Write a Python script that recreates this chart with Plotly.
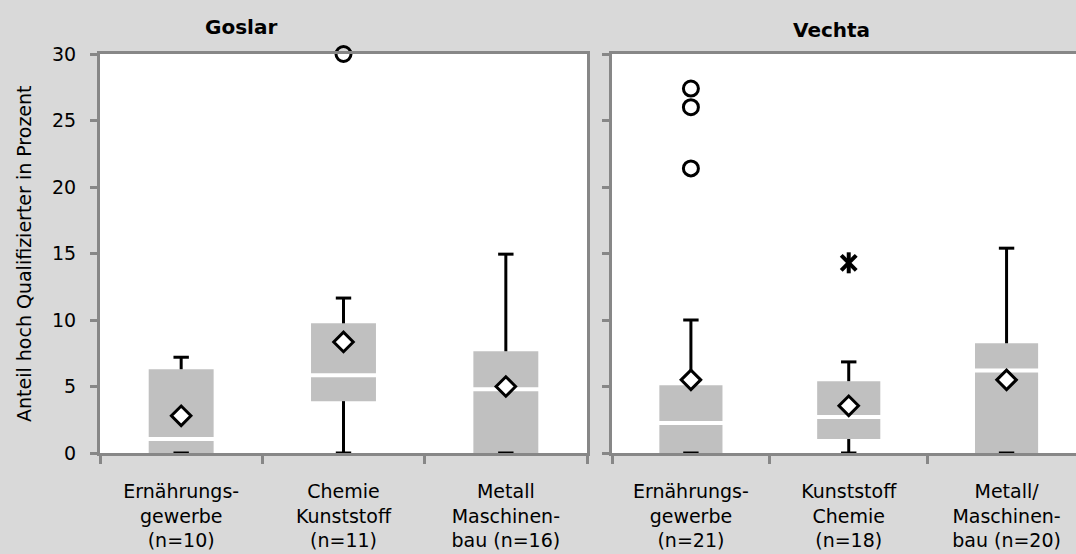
import plotly.graph_objects as go


# ═══════════════════════════════════════════════════════════════
# Daten
# ═══════════════════════════════════════════════════════════════

goslar_kategorien = [
    "Ernährungs-<br>gewerbe<br>(n=10)",
    "Chemie<br>Kunststoff<br>(n=11)",
    "Metall<br>Maschinen-<br>bau (n=16)",
]
goslar_q1 = [0.0, 3.9, 0.0]
goslar_median = [1.05, 5.85, 4.8]
goslar_q3 = [6.3, 9.75, 7.65]
goslar_min = [0.0, 0.0, 0.0]
goslar_max = [7.2, 11.65, 14.95]
goslar_mittel = [2.8, 8.35, 5.0]
goslar_ausreisser_x = [goslar_kategorien[1]]
goslar_ausreisser_y = [30.0]

vechta_kategorien = [
    "Ernährungs-<br>gewerbe<br>(n=21)",
    "Kunststoff<br>Chemie<br>(n=18)",
    "Metall/<br>Maschinen-<br>bau (n=20)",
]
vechta_q1 = [0.0, 1.05, 0.0]
vechta_median = [2.25, 2.7, 6.2]
vechta_q3 = [5.1, 5.4, 8.25]
vechta_min = [0.0, 0.0, 0.0]
vechta_max = [10.0, 6.85, 15.4]
vechta_mittel = [5.5, 3.55, 5.5]
vechta_ausreisser_x = [vechta_kategorien[0]] * 3
vechta_ausreisser_y = [21.4, 26.0, 27.4]
vechta_extrem_x = [vechta_kategorien[1]]
vechta_extrem_y = [14.3]

GRAU_BOX = "#c0c0c0"
GRAU_RAHMEN = "#878787"
HINTERGRUND = "#d9d9d9"
SCHRIFT = "DejaVu Sans"


def boxplot_spuren(kat, q1, med, q3, lo, hi, mittel, xa, ya, median_px):
    spuren = []

    spuren.append(go.Bar(
        x=kat, y=[b - a for a, b in zip(q1, q3)], base=q1, width=0.4,
        marker=dict(color=GRAU_BOX, line=dict(width=0)),
        xaxis=xa, yaxis=ya, hoverinfo="skip"
    ))

    # Whisker oben und unten
    wx, wy = [], []
    for k, a, b, l, h in zip(kat, q1, q3, lo, hi):
        wx += [k, k, None]
        wy += [b, h, None]
        if a > l:
            wx += [k, k, None]
            wy += [l, a, None]
    spuren.append(go.Scatter(
        x=wx, y=wy, mode="lines", line=dict(color="black", width=3),
        xaxis=xa, yaxis=ya, hoverinfo="skip"
    ))

    spuren.append(go.Scatter(
        x=kat + kat, y=hi + lo, mode="markers", cliponaxis=False,
        marker=dict(symbol="line-ew", size=11, color="black",
                    line=dict(color="black", width=3)),
        xaxis=xa, yaxis=ya, hoverinfo="skip"
    ))

    # Median als weiße Linie
    spuren.append(go.Scatter(
        x=kat, y=med, mode="markers",
        marker=dict(symbol="line-ew", size=median_px, color="white",
                    line=dict(color="white", width=4)),
        xaxis=xa, yaxis=ya, hoverinfo="skip"
    ))

    spuren.append(go.Scatter(
        x=kat, y=mittel, mode="markers",
        marker=dict(symbol="diamond", size=15, color="white",
                    line=dict(color="black", width=3)),
        xaxis=xa, yaxis=ya
    ))

    return spuren


fig = go.Figure()

for s in boxplot_spuren(goslar_kategorien, goslar_q1, goslar_median, goslar_q3,
                        goslar_min, goslar_max, goslar_mittel, "x", "y", 64):
    fig.add_trace(s)

for s in boxplot_spuren(vechta_kategorien, vechta_q1, vechta_median, vechta_q3,
                        vechta_min, vechta_max, vechta_mittel, "x2", "y2", 62):
    fig.add_trace(s)

kreis = dict(symbol="circle-open", size=15, color="black", line=dict(color="black", width=3))

fig.add_trace(go.Scatter(
    x=goslar_ausreisser_x, y=goslar_ausreisser_y, mode="markers", cliponaxis=False,
    marker=kreis, xaxis="x", yaxis="y"
))
fig.add_trace(go.Scatter(
    x=vechta_ausreisser_x, y=vechta_ausreisser_y, mode="markers", cliponaxis=False,
    marker=kreis, xaxis="x2", yaxis="y2"
))
for symbol in ["x-thin-open", "line-ns-open"]:
    fig.add_trace(go.Scatter(
        x=vechta_extrem_x, y=vechta_extrem_y, mode="markers",
        marker=dict(symbol=symbol, size=15, color="black",
                    line=dict(color="black", width=4)),
        xaxis="x2", yaxis="y2"
    ))

achse_x = dict(
    type="category", tickson="boundaries", ticks="outside", ticklen=8,
    tickwidth=3, tickcolor=GRAU_RAHMEN, showline=True, linewidth=3,
    linecolor=GRAU_RAHMEN, showgrid=False, zeroline=False, automargin=False,
    tickfont=dict(family=SCHRIFT, size=19, color="black"),
    ticklabelstandoff=19, fixedrange=True
)
achse_y = dict(
    range=[0, 30], dtick=5, ticks="outside", ticklen=7, tickwidth=3,
    tickcolor=GRAU_RAHMEN, showline=True, linewidth=3, linecolor=GRAU_RAHMEN,
    showgrid=False, zeroline=False, automargin=False,
    tickfont=dict(family=SCHRIFT, size=19, color="black"),
    ticklabelstandoff=10, fixedrange=True
)

fig.update_layout(
    width=1076, height=554,
    margin=dict(l=0, r=0, t=0, b=0),
    paper_bgcolor=HINTERGRUND, plot_bgcolor="white",
    showlegend=False, barmode="overlay",
    font=dict(family=SCHRIFT, color="black"),
    xaxis=dict(achse_x, domain=[100 / 1076, 587 / 1076], range=[-0.5, 2.5], mirror=True),
    yaxis=dict(achse_y, domain=[1 - 453 / 554, 1 - 54 / 554], mirror=True),
    xaxis2=dict(achse_x, domain=[612 / 1076, 1.0], range=[-0.5, 2.44], mirror=True),
    yaxis2=dict(achse_y, domain=[1 - 453 / 554, 1 - 54 / 554], anchor="x2",
                showticklabels=False),
)

fig.add_annotation(
    text="Anteil hoch Qualifizierter in Prozent", textangle=-90,
    x=24 / 1076, y=1 - 254 / 554, xref="paper", yref="paper",
    xanchor="center", yanchor="middle",
    showarrow=False, font=dict(family=SCHRIFT, size=19)
)
fig.add_annotation(
    text="<b>Goslar</b>", x=241 / 1076, y=1 - 27 / 554, xref="paper", yref="paper",
    xanchor="center", yanchor="middle",
    showarrow=False, font=dict(family=SCHRIFT, size=20)
)
fig.add_annotation(
    text="<b>Vechta</b>", x=831 / 1076, y=1 - 30 / 554, xref="paper", yref="paper",
    xanchor="center", yanchor="middle",
    showarrow=False, font=dict(family=SCHRIFT, size=20)
)

fig.write_html(
    "out.html",
    config={"displayModeBar": False},
    post_script="document.body.style.margin = '0';"
)
